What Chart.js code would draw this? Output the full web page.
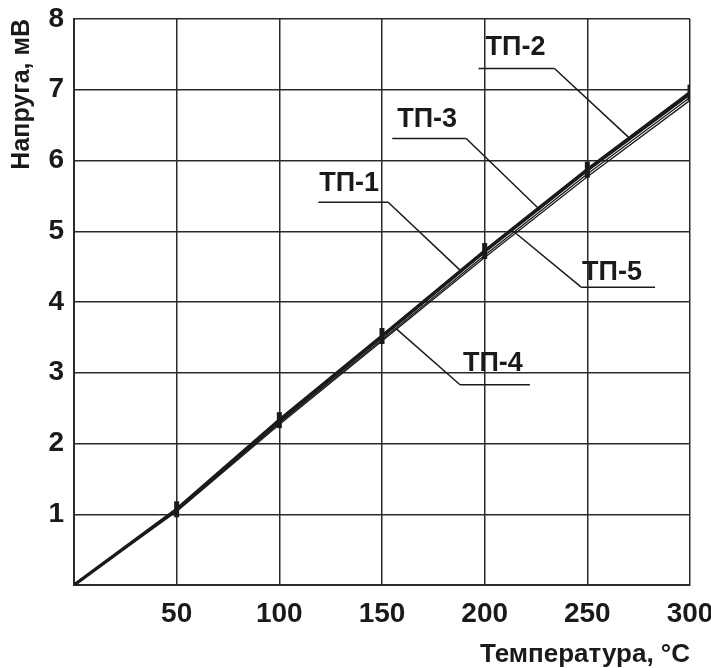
<!DOCTYPE html>
<html><head><meta charset="utf-8">
<script src="https://cdn.jsdelivr.net/npm/chart.js@4/dist/chart.umd.min.js"></script>
<style>html,body{margin:0;padding:0;background:#fff;} #wrap{width:711px;height:668px;position:relative;}</style>
</head><body><div id="wrap"><canvas id="c" width="711" height="668"></canvas></div>
<script>
// ---- data ----
const temperature = [0, 50, 100, 150, 200, 250, 300];
const tp1 = [0, 1.06, 2.32, 3.51, 4.71, 5.86, 6.94];
const tp2 = [0, 1.07, 2.33, 3.52, 4.72, 5.87, 6.96];
const tp3 = [0, 1.05, 2.29, 3.47, 4.66, 5.81, 6.89];
const tp4 = [0, 1.06, 2.31, 3.50, 4.70, 5.85, 6.93];
const tp5 = [0, 1.04, 2.27, 3.45, 4.63, 5.77, 6.85];
const seriesNames = ['ТП-1', 'ТП-2', 'ТП-3', 'ТП-4', 'ТП-5'];
const xTickLabels = ['50', '100', '150', '200', '250', '300'];
const yTickLabels = ['1', '2', '3', '4', '5', '6', '7', '8'];
const xTitle = 'Температура, °C';
const yTitle = 'Напруга, мВ';

// ---- callout placement (data units) ----
const callouts = {
  'ТП-1': { text: [134, 5.68], under: [119, 153, 5.41], leader: [[153, 5.41], [188, 4.45]] },
  'ТП-2': { text: [215, 7.60], under: [197, 234, 7.30], leader: [[234, 7.30], [270, 6.33]] },
  'ТП-3': { text: [172, 6.58], under: [155, 191, 6.31], leader: [[191, 6.31], [227, 5.30]] },
  'ТП-4': { text: [204, 3.13], under: [188, 222, 2.83], leader: [[157, 3.62], [188, 2.83]] },
  'ТП-5': { text: [262, 4.41], under: [247, 283, 4.21], leader: [[214, 5.00], [247, 4.21]] }
};

const FONT = '"Liberation Sans", Arial, Helvetica, sans-serif';
const INK = '#1a1a1a';

function pts(vals) { return temperature.map((t, i) => ({ x: t, y: vals[i] })); }

const styles = {
  'ТП-1': { w: 1.6 },
  'ТП-2': { w: 3.4 },
  'ТП-3': { w: 1.3 },
  'ТП-4': { w: 1.6 },
  'ТП-5': { w: 1.3 }
};
const allSeries = [tp1, tp2, tp3, tp4, tp5];

const datasets = seriesNames.map((name, i) => {
  const isMain = name === 'ТП-2';
  return {
    label: name,
    data: pts(allSeries[i]),
    borderColor: INK,
    backgroundColor: INK,
    borderWidth: styles[name].w,
    fill: false,
    tension: 0,
    pointStyle: 'line',
    rotation: 90,
    pointRadius: isMain ? temperature.map(t => t === 0 ? 0 : 8) : 0,
    pointBorderWidth: 5,
    pointBorderColor: INK,
    order: isMain ? 0 : i + 1
  };
});

const calloutPlugin = {
  id: 'callouts',
  afterDatasetsDraw(chart) {
    const { ctx, scales: { x, y } } = chart;
    ctx.save();
    ctx.strokeStyle = INK;
    ctx.fillStyle = INK;
    ctx.lineWidth = 1.5;
    ctx.font = 'bold 27px ' + FONT;
    ctx.textAlign = 'center';
    ctx.textBaseline = 'middle';
    seriesNames.forEach(name => {
      const c = callouts[name];
      ctx.beginPath();
      ctx.moveTo(x.getPixelForValue(c.under[0]), y.getPixelForValue(c.under[2]));
      ctx.lineTo(x.getPixelForValue(c.under[1]), y.getPixelForValue(c.under[2]));
      ctx.stroke();
      ctx.beginPath();
      ctx.moveTo(x.getPixelForValue(c.leader[0][0]), y.getPixelForValue(c.leader[0][1]));
      ctx.lineTo(x.getPixelForValue(c.leader[1][0]), y.getPixelForValue(c.leader[1][1]));
      ctx.stroke();
      ctx.fillText(name, x.getPixelForValue(c.text[0]), y.getPixelForValue(c.text[1]));
    });
    ctx.restore();
  }
};

const bgPlugin = {
  id: 'bg',
  beforeDraw(chart) {
    const ctx = chart.ctx;
    ctx.save(); ctx.fillStyle = '#fff'; ctx.fillRect(0, 0, chart.width, chart.height); ctx.restore();
  }
};

new Chart(document.getElementById('c'), {
  type: 'line',
  data: { datasets },
  plugins: [bgPlugin, calloutPlugin],
  options: {
    responsive: false,
    animation: false,
    layout: { padding: { top: 19, right: 21, left: 0, bottom: 0 } },
    plugins: { legend: { display: false }, tooltip: { enabled: false } },
    scales: {
      x: {
        type: 'linear', min: 0, max: 300,
        afterFit(s) { s.height = 83; s.paddingLeft = 0; s.paddingRight = 0; },
        afterBuildTicks(s) { s.ticks = [0].concat(xTickLabels.map(Number)).map(v => ({ value: v })); },
        ticks: {
          callback: v => { const i = xTickLabels.indexOf(String(v)); return i >= 0 ? xTickLabels[i] : ''; },
          font: { family: FONT, size: 28, weight: 'bold' }, color: INK, padding: 12, maxRotation: 0, autoSkip: false
        },
        grid: { color: '#2a2a2a', lineWidth: 1.5, drawTicks: false },
        border: { display: true, color: '#2a2a2a', width: 2 },
        title: { display: true, text: xTitle, align: 'end', color: INK,
          font: { family: FONT, size: 26, weight: 'bold', lineHeight: 1 }, padding: { top: 0, bottom: 0 } }
      },
      y: {
        type: 'linear', min: 0, max: 8,
        afterFit(s) { s.width = 74; s.paddingTop = 0; s.paddingBottom = 0; },
        afterBuildTicks(s) { s.ticks = [0].concat(yTickLabels.map(Number)).map(v => ({ value: v })); },
        ticks: {
          callback: v => { const i = yTickLabels.indexOf(String(v)); return i >= 0 ? yTickLabels[i] : ''; },
          font: { family: FONT, size: 28, weight: 'bold' }, color: INK, padding: 10, autoSkip: false
        },
        grid: { color: '#2a2a2a', lineWidth: 1.5, drawTicks: false },
        border: { display: true, color: '#2a2a2a', width: 2 },
        title: { display: true, text: yTitle, align: 'end', color: INK,
          font: { family: FONT, size: 25, weight: 'bold', lineHeight: 1 }, padding: { top: 10, bottom: 0 } }
      }
    }
  }
});
</script>
</body></html>
